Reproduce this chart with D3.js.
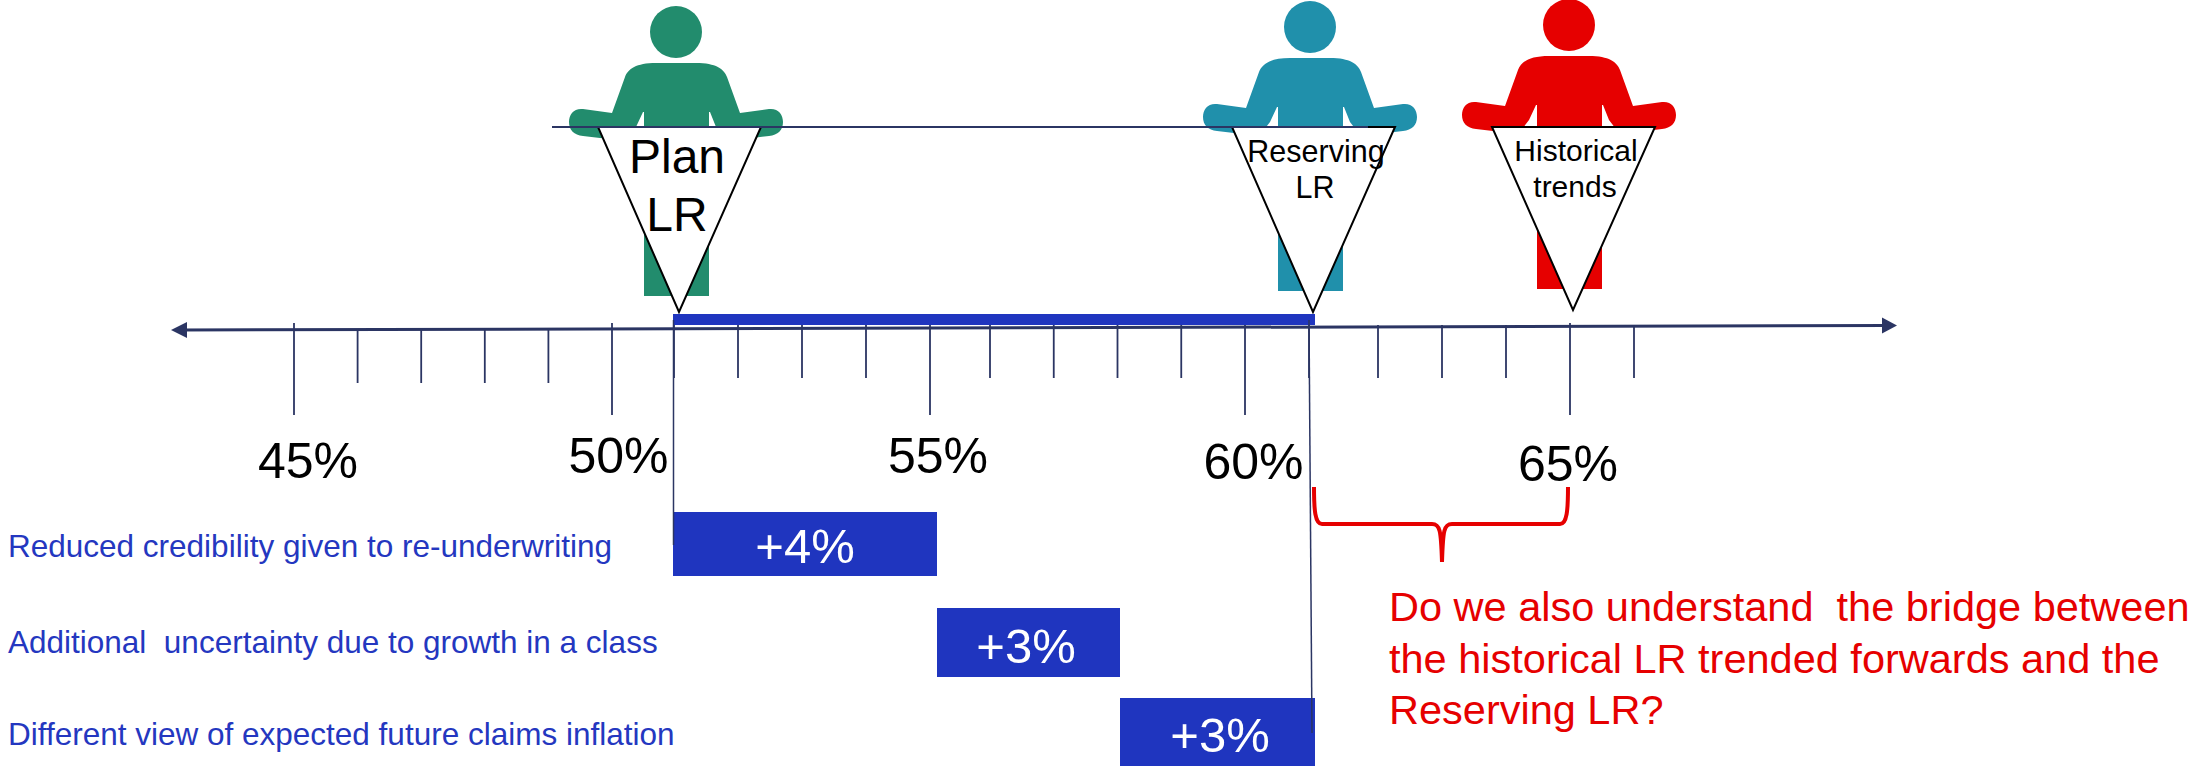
<!DOCTYPE html>
<html>
<head>
<meta charset="utf-8">
<script src="https://cdnjs.cloudflare.com/ajax/libs/d3/7.8.5/d3.min.js"></script>
<style>
  html, body { margin: 0; padding: 0; background: #fff; }
  svg { display: block; }
  text { font-family: "Liberation Sans", Arial, sans-serif; white-space: pre; }
</style>
</head>
<body>
<svg id="chart" width="2199" height="766"></svg>
<script>
// Loss ratio scale
const majorTicks = [45, 50, 55, 60, 65];
const minorTicksLeft = [46, 47, 48, 49];
const minorTicksRight = [51, 52, 53, 54, 56, 57, 58, 59, 61, 62, 63, 64, 66];
const tickLabels = ["45%", "50%", "55%", "60%", "65%"];

// Viewpoints standing on the scale
const viewNames = [["Plan", "LR"], ["Reserving", "LR"], ["Historical", "trends"]];
const viewValues = [51, 61, 65];
const viewColours = ["#228c6d", "#2090ab", "#e60000"];

// Bridge from plan to reserving LR
const bridgeStart = 51;
const bridgeLabels = [
  "Reduced credibility given to re-underwriting",
  "Additional  uncertainty due to growth in a class",
  "Different view of expected future claims inflation"
];
const bridgeSteps = [4, 3, 3];

const question = [
  "Do we also understand  the bridge between",
  "the historical LR trended forwards and the",
  "Reserving LR?"
];

const navy = "#2b3563", barBlue = "#1f35bf", labelBlue = "#2437c0", red = "#e60000";
const svg = d3.select("#chart");

// The ruled scale is slightly uneven, so it is anchored at several values
const x = d3.scaleLinear()
  .domain([45, 50, 51, 52, 55, 56, 60, 61, 62, 65, 66])
  .range([294, 612, 674, 738, 930, 990, 1245, 1309, 1378, 1570, 1634]);

// The waterfall blocks sit on their own scale
const bx = d3.scaleLinear()
  .domain([51, 55, 58, 61])
  .range([673, 937, 1120, 1315]);

// Person figure, origin at the centre of the head
const personBody = [
  "M-20,31 L20,31 C40,31 48,37 51,45 L64,81 L93,77",
  "C102,76 107,82 107,90 C107,98 102,103 93,104 L76,106 L50,108 L40,95 L34,80 L33,80 L33,264",
  "L-32,264 L-32,80 L-33,80 L-40,95 L-50,108 L-76,106 L-93,104",
  "C-102,103 -107,98 -107,90 C-107,82 -102,76 -93,77 L-64,81 L-51,45 C-48,37 -40,31 -20,31 Z"
].join(" ");

const headY = [32, 27, 25];
const tipY = [312, 312, 310];
const nameLayout = [
  { size: 48, base: [173, 231], shift: [0, 0] },
  { size: 30.5, base: [162, 198], shift: [2, 1] },
  { size: 30, base: [161, 197], shift: [1, 0] }
];

const people = svg.append("g").selectAll("g").data(viewValues).join("g")
  .attr("transform", (d, i) => `translate(${x(d) + [2, 1, -1][i]},${headY[i]})`);
people.append("circle").attr("r", 26).attr("fill", (d, i) => viewColours[i]);
people.append("path").attr("d", personBody).attr("fill", (d, i) => viewColours[i]);

// Pennant triangles hanging from the shared rail
const railY = 127;
svg.append("g").selectAll("path").data(viewValues).join("path")
  .attr("d", (d, i) => {
    const tx = x(d) + [5, 4, 3][i];
    return d3.line()([[tx - 81, railY], [tx + 82, railY], [tx, tipY[i]]]) + "Z";
  })
  .attr("fill", "#fff").attr("stroke", "#000").attr("stroke-width", 2).attr("stroke-linejoin", "miter");

svg.append("line")
  .attr("x1", 552).attr("x2", 1368).attr("y1", railY).attr("y2", railY)
  .attr("stroke", navy).attr("stroke-width", 2);

svg.append("g").selectAll("g").data(viewNames).join("g").each(function (lines, i) {
  d3.select(this).selectAll("text").data(lines).join("text")
    .attr("x", (d, j) => x(viewValues[i]) + [3, 5, 5][i] + nameLayout[i].shift[j])
    .attr("y", (d, j) => nameLayout[i].base[j])
    .attr("text-anchor", "middle").attr("font-size", nameLayout[i].size).attr("fill", "#000")
    .text(d => d);
});

// Number line with its arrowheads
const axisY = v => 330 - (v - 170) * 4.5 / 1727;
const ax0 = 171, ax1 = 1897;
svg.append("line")
  .attr("x1", ax0 + 10).attr("x2", ax1 - 10).attr("y1", axisY(ax0)).attr("y2", axisY(ax1))
  .attr("stroke", navy).attr("stroke-width", 3);
svg.append("path").attr("fill", navy)
  .attr("d", d3.line()([[ax0, axisY(ax0)], [ax0 + 16, axisY(ax0) - 8], [ax0 + 16, axisY(ax0) + 8]]) + "Z");
svg.append("path").attr("fill", navy)
  .attr("d", d3.line()([[ax1, axisY(ax1)], [ax1 - 15, axisY(ax1) - 8], [ax1 - 15, axisY(ax1) + 8]]) + "Z");

function ticks(values, top, bottom) {
  const g = svg.append("g").attr("transform", `translate(-0.5,${top})`)
    .call(d3.axisBottom(x).tickValues(values).tickSize(bottom - top).tickFormat(""));
  g.select(".domain").remove();
  g.selectAll("line").attr("stroke", navy).attr("stroke-width", 1.8);
  g.selectAll("text").remove();
}
ticks(majorTicks, 323, 415);
ticks(minorTicksLeft, 329, 383);
ticks(minorTicksRight, 325, 378);

const tickLabelX = [308, 618.5, 938, 1253.5, 1568];
const tickLabelY = [478, 473, 473, 479, 481];
svg.append("g").selectAll("text").data(tickLabels).join("text")
  .attr("x", (d, i) => tickLabelX[i]).attr("y", (d, i) => tickLabelY[i])
  .attr("text-anchor", "middle").attr("font-size", 50).attr("fill", "#000")
  .text(d => d);

// Thick span from plan to reserving LR
const bridgeEnds = d3.cumsum(bridgeSteps).map(v => v + bridgeStart);
svg.append("rect")
  .attr("x", bx(bridgeStart)).attr("width", bx(bridgeEnds[2]) - bx(bridgeStart))
  .attr("y", 314).attr("height", 11).attr("fill", barBlue);

// Waterfall blocks
const blockTop = [512, 608, 698];
const blockBottom = [576, 677, 766];
const blockTextY = [563, 663, 752];
const blocks = svg.append("g").selectAll("g").data(bridgeSteps).join("g");
blocks.append("rect")
  .attr("x", (d, i) => bx(bridgeEnds[i] - d))
  .attr("width", (d, i) => bx(bridgeEnds[i]) - bx(bridgeEnds[i] - d))
  .attr("y", (d, i) => blockTop[i])
  .attr("height", (d, i) => blockBottom[i] - blockTop[i])
  .attr("fill", barBlue);
blocks.append("text")
  .attr("x", (d, i) => [805, 1026, 1220][i])
  .attr("y", (d, i) => blockTextY[i])
  .attr("text-anchor", "middle").attr("font-size", 49).attr("fill", "#fff")
  .text(d => `+${d}%`);

// Drop lines from the scale to the waterfall
svg.append("line").attr("x1", 673.5).attr("x2", 673.5).attr("y1", 320).attr("y2", 545)
  .attr("stroke", navy).attr("stroke-width", 1.5);
svg.append("line").attr("x1", 1309).attr("x2", 1312).attr("y1", 320).attr("y2", 733)
  .attr("stroke", navy).attr("stroke-width", 1.5);

// Driver descriptions
const driverY = [557, 653, 745];
svg.append("g").selectAll("text").data(bridgeLabels).join("text")
  .attr("x", 8).attr("y", (d, i) => driverY[i])
  .attr("font-size", 31.5).attr("fill", labelBlue)
  .text(d => d);

// Brace between the reserving LR and the 65% mark
svg.append("path")
  .attr("d", "M1314,487 C1314,510 1315,524 1322,524 L1432,524 C1440,524 1441,530 1442,562 C1443,530 1444,524 1452,524 L1560,524 C1567,524 1568,510 1568,487")
  .attr("fill", "none").attr("stroke", red).attr("stroke-width", 4);

const questionY = [621, 673, 724];
svg.append("g").selectAll("text").data(question).join("text")
  .attr("x", 1389).attr("y", (d, i) => questionY[i])
  .attr("font-size", 41.5).attr("fill", red)
  .text(d => d);
</script>
</body>
</html>
